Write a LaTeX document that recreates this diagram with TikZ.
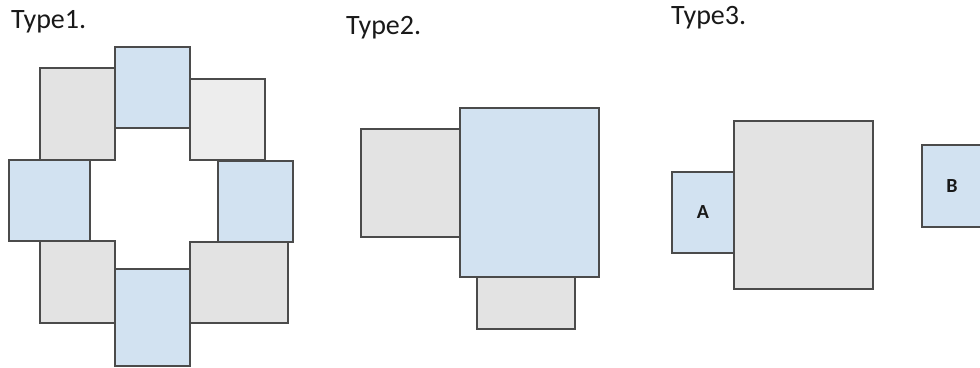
\documentclass[tikz,border=0pt]{standalone}
\usepackage{fontspec}
\setmainfont{Carlito}
\usepackage{tikz}
\usetikzlibrary{positioning}
\usepackage{xcolor}
\definecolor{tilblue}{RGB}{210,226,241}
\definecolor{tilgray}{RGB}{227,227,227}
\definecolor{tillight}{RGB}{237,237,237}
\definecolor{tiledge}{RGB}{75,75,75}
\tikzstyle{tile} = [rectangle, inner sep=0pt, outer sep=0pt, draw=tiledge, line width=1.2pt]
\tikzstyle{bluetile} = [tile, fill=tilblue]
\tikzstyle{graytile} = [tile, fill=tilgray]
\tikzstyle{lighttile} = [tile, fill=tillight]
\tikzstyle{title} = [anchor=base west, inner sep=0pt, font=\fontsize{28}{32}\selectfont, text=black!90]
\tikzstyle{tag} = [font=\bfseries\fontsize{20}{22}\selectfont, text=black!90]

\begin{document}
\begin{tikzpicture}[x=1pt, y=-1pt]
\useasboundingbox (0,0) rectangle (980,367);

% Type1: ring of tiles
\node[title] (type1) at (11,28) {Type1.};
\node[graytile, minimum width=75pt, minimum height=92pt] (t1nw) at (77.5,114) {};
\node[bluetile, minimum width=75pt, minimum height=81pt] (t1n) at (152.5,87.5) {};
\node[lighttile, minimum width=75pt, minimum height=81pt] (t1ne) at (227.5,119.5) {};
\node[bluetile, minimum width=81pt, minimum height=81pt] (t1w) at (49.5,200.5) {};
\node[bluetile, minimum width=75pt, minimum height=81pt] (t1e) at (255.5,201.5) {};
\node[graytile, minimum width=75pt, minimum height=82pt] (t1sw) at (77.5,282) {};
\node[graytile, minimum width=98pt, minimum height=81pt] (t1se) at (239,282.5) {};
\node[bluetile, minimum width=75pt, minimum height=97pt] (t1s) at (152.5,317.5) {};

% Type2: big tile with two neighbours
\node[title] (type2) at (346,34) {Type2.};
\node[graytile, minimum width=99pt, minimum height=108pt] (t2w) at (410.5,183) {};
\node[graytile, minimum width=98pt, minimum height=52pt] (t2s) at (526,303) {};
\node[bluetile, minimum width=139pt, minimum height=169pt] (t2big) at (529.5,192.5) {};

% Type3: A attached, B apart
\node[title] (type3) at (671,24) {Type3.};
\node[bluetile, minimum width=62pt, minimum height=81pt] (t3a) at (703,212.5) {};
\node[graytile, minimum width=139pt, minimum height=168pt] (t3big) at (803.5,205) {};
\node[bluetile, minimum width=64pt, minimum height=82pt] (t3b) at (954,186) {};
\node[tag] (labela) at (t3a.center) {A};
\node[tag] (labelb) at ([xshift=-2pt]t3b.center) {B};
\end{tikzpicture}
\end{document}
